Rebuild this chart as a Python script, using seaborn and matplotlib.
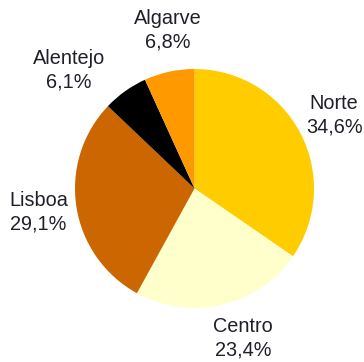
import matplotlib
matplotlib.use("Agg")
import matplotlib.pyplot as plt
import numpy as np
import seaborn as sns

# Regional shares (%)
regions = ["Norte", "Centro", "Lisboa", "Alentejo", "Algarve"]
shares = [34.6, 23.4, 29.1, 6.1, 6.8]
colors = ["#FFCC00", "#FFFFCC", "#CC6600", "#000000", "#FF9900"]

sns.set_theme(style="white")
plt.rcParams["font.family"] = ["Liberation Sans", "DejaVu Sans"]

fig = plt.figure(figsize=(3.64, 3.62), dpi=100)
ax = fig.add_axes([0, 0, 1, 1])

labels = [f"{r}\n{str(v).replace('.', ',')}%" for r, v in zip(regions, shares)]
wedges, texts = ax.pie(
    shares,
    colors=colors,
    labels=labels,
    startangle=90,
    counterclock=False,
    radius=1.0,
    labeldistance=1.32,
    textprops=dict(fontsize=14.3, color="#1f1f2a", linespacing=1.3),
    wedgeprops=dict(linewidth=0),
)
for t in texts:
    t.set_horizontalalignment("center")
    t.set_verticalalignment("center")

# labels that sit off their slice's bisector: (distance, angle in degrees)
extra = {"Centro": (1.315, -72.0), "Alentejo": (1.44, 136.8), "Algarve": (1.345, 99.5)}
for t, r in zip(texts, regions):
    if r in extra:
        d, a = extra[r]
        t.set_position((d * np.cos(np.radians(a)), d * np.sin(np.radians(a))))

R = 119.5
cx, cy = 194.5, 362 - 188.5
ax.set_xlim(-cx / R, (364 - cx) / R)
ax.set_ylim(-cy / R, (362 - cy) / R)
ax.set_aspect("equal", adjustable="box")
ax.axis("off")

fig.savefig("out.png", dpi=100)
